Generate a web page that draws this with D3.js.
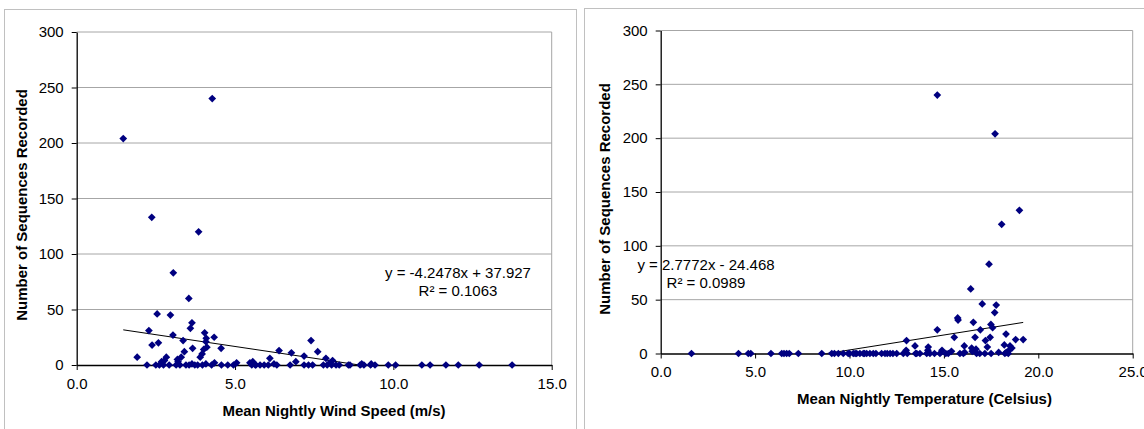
<!DOCTYPE html>
<html>
<head>
<meta charset="utf-8">
<script src="https://cdn.jsdelivr.net/npm/d3@7"></script>
<style>
body { margin: 0; background: #fff; }
svg { display: block; }
text { font-family: "Liberation Sans", Arial, sans-serif; }
</style>
</head>
<body>
<svg width="1144" height="429"></svg>
<script>
// nights: wind speed vs number of sequences
var windSpeed = [1.47,4.28,2.37,3.85,3.05,3.54,2.54,2.96,3.64,3.59,
  2.28,4.04,3.04,4.34,4.09,3.36,7.40,2.58,4.08,2.38,
  4.11,3.66,4.56,4.01,6.39,3.40,7.61,6.78,3.96,7.18,
  1.91,3.30,3.90,2.83,6.10,7.87,3.18,8.08,2.77,2.68,
  6.92,5.56,3.20,4.35,5.05,5.47,6.23,8.00,9.00,9.30,3.64,4.08,
  2.22,2.50,2.61,2.74,2.92,3.14,3.26,3.45,3.55,3.73,
  3.82,3.97,4.26,4.57,4.77,4.95,5.53,5.64,5.66,5.79,
  5.92,6.05,6.32,6.74,7.18,7.32,7.45,7.79,7.91,8.05,
  8.19,8.29,8.58,8.63,8.95,9.07,9.28,9.42,9.84,10.07,
  10.90,11.16,11.66,12.05,12.71,13.75];
var windCount = [204,240,133,120,83,60,46,45,38,33,
  31,29,27,25,24,22,22,20,21,18,
  16,15,15,14,13,12,12,11,10,8,
  7,7,7,7,6,6,5,4,4,3,
  3,3,3,2,2,2,1,2,1,1,1,1,
  0,0,0,0,0,0,0,0,0,0,
  0,0,0,0,0,0,0,0,0,0,
  0,0,0,0,0,0,0,0,0,0,
  0,0,0,0,0,0,0,0,0,0,
  0,0,0,0,0,0];

// nights: temperature vs number of sequences
var tempC = [14.65,17.71,19.00,18.06,17.39,16.42,17.03,17.77,17.69,15.73,
  15.75,16.56,17.49,17.58,16.93,14.65,18.29,16.65,15.55,17.45,
  18.80,19.20,13.02,17.20,18.20,16.08,18.50,13.47,14.17,17.30,
  16.47,18.60,14.15,16.70,18.45,16.50,15.40,14.90,13.00,16.10,18.30,17.90,
  1.63,4.12,4.64,4.77,5.84,6.41,6.53,6.67,6.81,7.29,
  8.53,9.06,9.41,9.67,9.93,10.20,10.38,10.55,10.73,10.91,
  11.08,11.26,11.70,11.88,12.15,12.50,12.85,13.06,13.56,13.73,
  14.09,14.26,14.79,15.23,15.85,16.03,16.73,17.17,18.23,18.41,
  9.20,10.00,10.30,10.80,11.40,12.00,12.30,13.50,14.50,15.10,16.90,17.50];
var tempCount = [240,204,133,120,83,60,46,45,38,33,
  31,29,27,24,22,22,18,15,15,15,
  13,13,12,12,8,7,7,7,6,6,
  5,5,3,4,3,2,2,3,3,1,1,1,
  0,0,0,0,0,0,0,0,0,0,
  0,0,0,0,0,0,0,0,0,0,
  0,0,0,0,0,0,0,0,0,0,
  0,0,0,0,0,0,0,0,0,0,
  0,0,0,0,0,0,0,0,0,0,0,0];

var yTicks = [0,50,100,150,200,250,300];
var windTicks = [0,5,10,15];
var tempTicks = [0,5,10,15,20,25];
var windTrend = [-4.2478, 37.927];
var tempTrend = [2.7772, -24.468];
var windEq = ["y = -4.2478x + 37.927", "R\u00b2 = 0.1063"];
var tempEq = ["y = 2.7772x - 24.468", "R\u00b2 = 0.0989"];

var svg = d3.select("svg");
svg.append("rect").attr("width", 1144).attr("height", 429).attr("fill", "#fff");

function drawChart(c) {
  var g = svg.append("g");

  // outer chart frame
  g.append("rect")
    .attr("x", c.frame[0]).attr("y", c.frame[1])
    .attr("width", c.frame[2]).attr("height", 500)
    .attr("fill", "none").attr("stroke", "#c0c0c0");

  var x = d3.scaleLinear().domain([0, c.xMax]).range([c.left, c.right]);
  var y = d3.scaleLinear().domain([0, 300]).range([c.bottom, c.top]);

  // gridlines
  g.selectAll(".grid").data(yTicks.slice(1)).enter().append("line")
    .attr("x1", c.left).attr("x2", c.right)
    .attr("y1", function(d) { return y(d); }).attr("y2", function(d) { return y(d); })
    .attr("stroke", "#a6a6a6").attr("stroke-width", 1);
  g.append("line")
    .attr("x1", c.right).attr("x2", c.right)
    .attr("y1", c.top).attr("y2", c.bottom)
    .attr("stroke", "#a6a6a6");

  var clipId = "clip" + c.id;
  g.append("clipPath").attr("id", clipId).append("rect")
    .attr("x", c.left).attr("y", c.top)
    .attr("width", c.right - c.left).attr("height", c.bottom - c.top);

  // linear trendline, clipped at zero like Excel
  var xs = d3.extent(c.xs);
  g.append("line")
    .attr("clip-path", "url(#" + clipId + ")")
    .attr("x1", x(xs[0])).attr("y1", y(c.trend[0] * xs[0] + c.trend[1]))
    .attr("x2", x(xs[1])).attr("y2", y(c.trend[0] * xs[1] + c.trend[1]))
    .attr("stroke", "#000").attr("stroke-width", 1);

  // axes
  var yAxis = g.append("g").attr("transform", "translate(" + c.left + ",0)")
    .call(d3.axisLeft(y).tickValues(yTicks).tickFormat(d3.format("d"))
      .tickSize(5).tickSizeOuter(0).tickPadding(8));
  var xAxis = g.append("g").attr("transform", "translate(0," + c.bottom + ")")
    .call(d3.axisBottom(x).tickValues(c.xTicks).tickFormat(d3.format(".1f"))
      .tickSize(5).tickSizeOuter(0).tickPadding(8));
  [yAxis, xAxis].forEach(function(a) {
    a.selectAll("text").attr("font-size", 15).attr("fill", "#000")
      .attr("font-family", "'Liberation Sans', Arial, sans-serif");
    a.selectAll("line, path").attr("stroke", "#000");
  });
  xAxis.select(".domain").attr("stroke-width", 1.3);
  yAxis.select(".domain").attr("stroke-width", 1.3);

  // markers
  var diamond = d3.symbol().type(d3.symbolSquare).size(30);
  g.selectAll(".pt").data(c.xs).enter().append("path")
    .attr("d", diamond)
    .attr("transform", function(d, i) {
      return "translate(" + x(d) + "," + y(c.ys[i]) + ") rotate(45)";
    })
    .attr("fill", "#000080");

  // equation label
  g.selectAll(".eq").data(c.eq).enter().append("text")
    .attr("x", c.eqPos[0])
    .attr("y", function(d, i) { return c.eqPos[1] + i * 17.8; })
    .attr("dy", "0.35em")
    .attr("text-anchor", "middle")
    .attr("font-size", 15)
    .text(function(d) { return d; });

  // axis titles
  g.append("text")
    .attr("x", c.xTitlePos[0]).attr("y", c.xTitlePos[1])
    .attr("dy", "0.35em").attr("text-anchor", "middle")
    .attr("font-size", 15).attr("font-weight", "bold")
    .text(c.xTitle);
  g.append("text")
    .attr("transform", "translate(" + c.yTitlePos[0] + "," + c.yTitlePos[1] + ") rotate(-90)")
    .attr("dy", "0.35em").attr("text-anchor", "middle")
    .attr("font-size", 15).attr("font-weight", "bold")
    .text("Number of Sequences Recorded");
}

drawChart({
  id: 1, frame: [4.5, 9.5, 572],
  left: 76.7, right: 551.7, top: 32, bottom: 365,
  xMax: 15, xTicks: windTicks, xs: windSpeed, ys: windCount,
  trend: windTrend, eq: windEq, eqPos: [458, 272.7],
  xTitle: "Mean Nightly Wind Speed (m/s)", xTitlePos: [334, 410.5],
  yTitlePos: [21.5, 205]
});

drawChart({
  id: 2, frame: [584.5, 8.5, 600],
  left: 660.7, right: 1132.7, top: 30.5, bottom: 353.5,
  xMax: 25, xTicks: tempTicks, xs: tempC, ys: tempCount,
  trend: tempTrend, eq: tempEq, eqPos: [706, 265],
  xTitle: "Mean Nightly Temperature (Celsius)", xTitlePos: [924.5, 398.3],
  yTitlePos: [604.5, 199]
});
</script>
</body>
</html>
